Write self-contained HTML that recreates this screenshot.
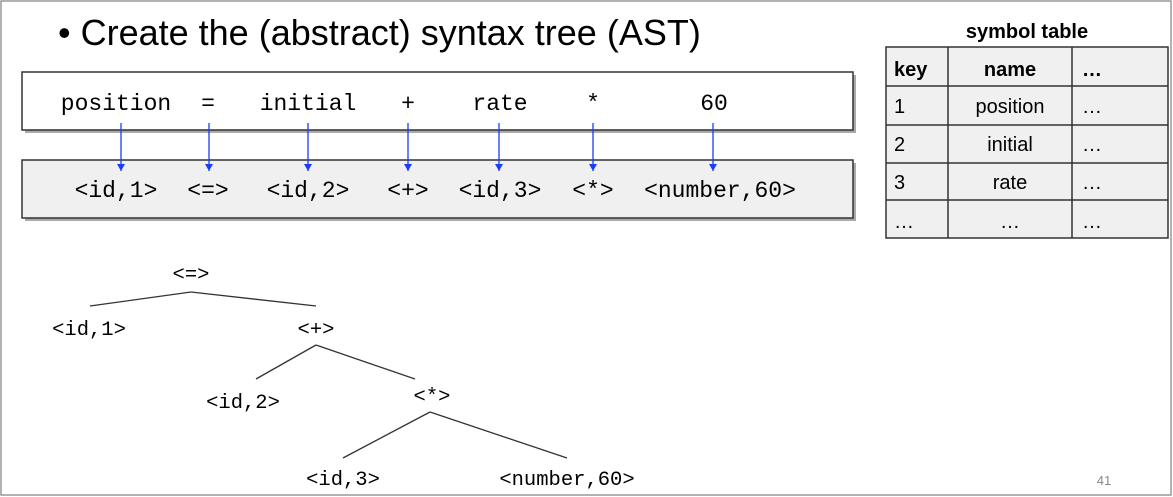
<!DOCTYPE html>
<html><head><style>
body{margin:0;width:1173px;height:497px;background:#fff;position:relative;overflow:hidden;font-family:"Liberation Sans",sans-serif}
.m{font-family:"Liberation Mono","DejaVu Sans Mono",monospace}
</style></head><body>
<svg width="1173" height="497" style="position:absolute;left:0;top:0">
<defs><marker id="a" markerWidth="8" markerHeight="8" refX="7" refY="4" orient="auto" markerUnits="userSpaceOnUse"><path d="M0,0 L7,4 L0,8 z" fill="#1a3cff"/></marker></defs>
<rect x="1" y="1" width="1170" height="494" fill="none" stroke="#999" stroke-width="1.5"/>
<text x="58" y="45" font-size="36" fill="#000">• Create the (abstract) syntax tree (AST)</text>
<rect x="25" y="75" width="831" height="58" fill="#aaa"/>
<rect x="22" y="72" width="831" height="58" fill="#fff" stroke="#333" stroke-width="1.5"/>
<rect x="25" y="163" width="831" height="58" fill="#aaa"/>
<rect x="22" y="160" width="831" height="58" fill="#f0f0f0" stroke="#333" stroke-width="1.5"/>
<g class="m" font-size="23" fill="#000" text-anchor="middle">
<text x="116" y="110">position</text><text x="208" y="110">=</text><text x="308" y="110">initial</text><text x="408" y="110">+</text><text x="500" y="110">rate</text><text x="593" y="110">*</text><text x="714" y="110">60</text>
<text x="116" y="197">&lt;id,1&gt;</text><text x="208" y="197">&lt;=&gt;</text><text x="308" y="197">&lt;id,2&gt;</text><text x="408" y="197">&lt;+&gt;</text><text x="500" y="197">&lt;id,3&gt;</text><text x="593" y="197">&lt;*&gt;</text><text x="720" y="197">&lt;number,60&gt;</text>
</g>
<g stroke="#1a3cff" stroke-width="1.3" marker-end="url(#a)">
<line x1="121" y1="123" x2="121" y2="171"/><line x1="209" y1="123" x2="209" y2="171"/><line x1="308" y1="123" x2="308" y2="171"/><line x1="408" y1="123" x2="408" y2="171"/><line x1="499" y1="123" x2="499" y2="171"/><line x1="593" y1="123" x2="593" y2="171"/><line x1="713" y1="123" x2="713" y2="171"/>
</g>
<g class="m" font-size="20.5" fill="#000" text-anchor="middle">
<text x="191" y="280">&lt;=&gt;</text><text x="89" y="335">&lt;id,1&gt;</text><text x="316" y="335">&lt;+&gt;</text><text x="243" y="408">&lt;id,2&gt;</text><text x="432" y="402">&lt;*&gt;</text><text x="343" y="485">&lt;id,3&gt;</text><text x="567" y="485">&lt;number,60&gt;</text>
</g>
<g stroke="#333" stroke-width="1.3">
<line x1="191" y1="292" x2="90" y2="306"/><line x1="191" y1="292" x2="316" y2="306"/>
<line x1="316" y1="345" x2="256" y2="379"/><line x1="316" y1="345" x2="415" y2="379"/>
<line x1="430" y1="412" x2="343" y2="458"/><line x1="430" y1="412" x2="567" y2="458"/>
</g>
<text x="1027" y="38" font-size="20" font-weight="bold" text-anchor="middle">symbol table</text>
<rect x="886" y="47" width="282" height="191" fill="#f0f0f0" stroke="#333" stroke-width="1.5"/>
<g stroke="#333" stroke-width="1.5">
<line x1="948" y1="47" x2="948" y2="238"/><line x1="1072" y1="47" x2="1072" y2="238"/>
<line x1="886" y1="86" x2="1168" y2="86"/><line x1="886" y1="125" x2="1168" y2="125"/><line x1="886" y1="163" x2="1168" y2="163"/><line x1="886" y1="200" x2="1168" y2="200"/>
</g>
<g font-size="20" fill="#000">
<text x="894" y="76" font-weight="bold">key</text><text x="1010" y="76" font-weight="bold" text-anchor="middle">name</text><text x="1082" y="76" font-weight="bold">…</text>
<text x="894" y="113">1</text><text x="1010" y="113" text-anchor="middle">position</text><text x="1082" y="113">…</text>
<text x="894" y="151">2</text><text x="1010" y="151" text-anchor="middle">initial</text><text x="1082" y="151">…</text>
<text x="894" y="189">3</text><text x="1010" y="189" text-anchor="middle">rate</text><text x="1082" y="189">…</text>
<text x="894" y="228">…</text><text x="1010" y="228" text-anchor="middle">…</text><text x="1082" y="228">…</text>
</g>
<text x="1104" y="485" font-size="13" fill="#888" text-anchor="middle">41</text>
</svg>
</body></html>
